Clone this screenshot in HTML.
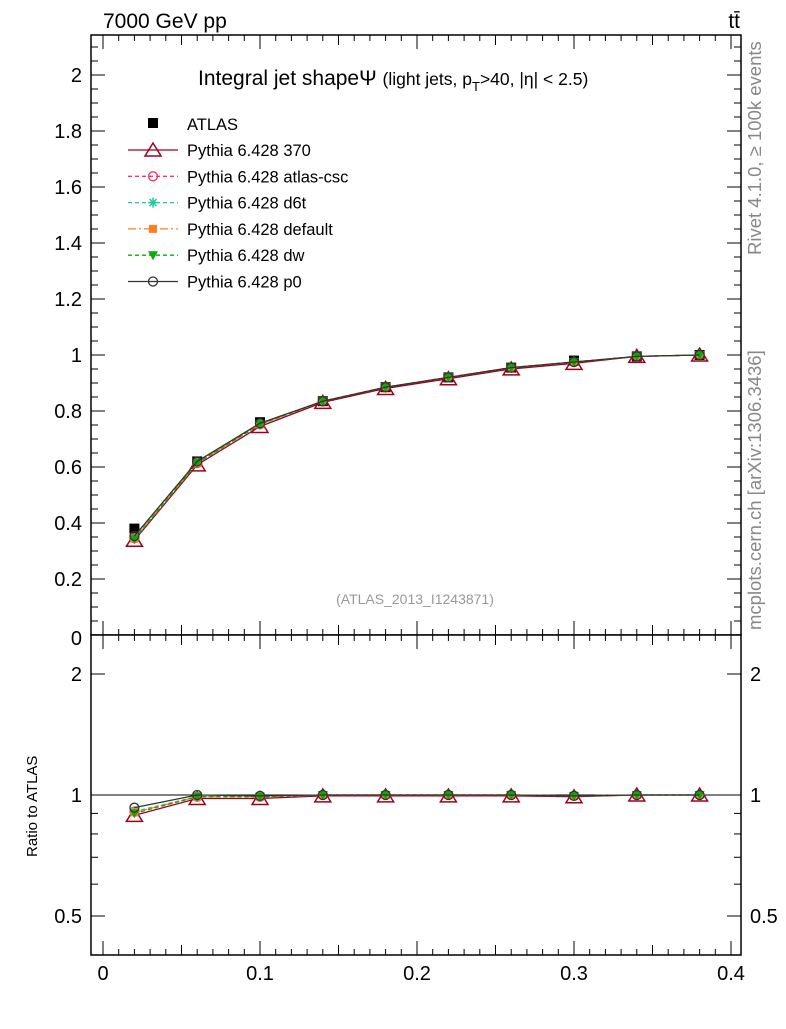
<!DOCTYPE html>
<html><head><meta charset="utf-8"><style>
body{margin:0;background:#fff;width:786px;height:1024px;overflow:hidden}
svg text{font-family:"Liberation Sans",sans-serif}
</style></head><body>
<svg id="c" width="786" height="1024" xmlns="http://www.w3.org/2000/svg"></svg>
<script>
const xVals=[0.02,0.06,0.10,0.14,0.18,0.22,0.26,0.30,0.34,0.38];
const atlas=[0.38,0.62,0.76,0.835,0.885,0.92,0.955,0.98,0.995,1.0];
const r370=[0.89,0.98,0.98,0.995,0.995,0.995,0.995,0.99,1.0,1.0];
const rCsc=[0.91,0.99,0.99,1.0,1.0,1.0,1.0,0.995,1.0,1.0];
const rD6t=[0.91,0.99,0.99,1.0,1.0,1.0,1.0,0.995,1.0,1.0];
const rDef=[0.905,0.99,0.99,1.0,1.0,1.0,1.0,0.995,1.0,1.0];
const rDw=[0.90,0.99,0.99,1.0,1.0,1.0,1.0,0.995,1.0,1.0];
const rP0=[0.93,1.0,0.995,1.0,1.0,1.0,1.0,0.995,1.0,1.0];
const xTicks=[0,0.1,0.2,0.3,0.4];
const yTicks=[0,0.2,0.4,0.6,0.8,1,1.2,1.4,1.6,1.8,2];
const rTicks=[0.5,1,2];

const S=document.getElementById('c');const NS='http://www.w3.org/2000/svg';
function el(t,a,p){const e=document.createElementNS(NS,t);for(const k in a)e.setAttribute(k,a[k]);(p||S).appendChild(e);return e;}
const L=91,R=741,T=35,M=635,B=955;
const X=v=>103+v*1570;
const Y=v=>635-280*v;
const YR=r=>795-121*Math.log2(r);
let f1=el('rect',{x:L,y:T,width:R-L,height:M-T,fill:'none',stroke:'#000','stroke-width':1.5});

for(let i=0;i<=42;i++){const v=i*0.01;const x=X(v);if(x>R)break;const maj=i%10==0;const len=maj?14:(i%5==0?10:6);
 el('line',{x1:x,y1:M,x2:x,y2:M-len,stroke:'#000'});el('line',{x1:x,y1:T,x2:x,y2:T+len,stroke:'#000'});
 el('line',{x1:x,y1:B,x2:x,y2:B-len,stroke:'#000'});el('line',{x1:x,y1:M,x2:x,y2:M+len,stroke:'#000'});}
xTicks.forEach(v=>{const t=el('text',{x:X(v),y:980,'font-size':20,'text-anchor':'middle'});t.textContent=String(v);
 });
for(let i=0;i<=42;i++){const v=i*0.05;const y=Y(v);if(y<T)break;const maj=i%4==0;const len=maj?14:7;
 el('line',{x1:L,y1:y,x2:L+len,y2:y,stroke:'#000'});el('line',{x1:R,y1:y,x2:R-len,y2:y,stroke:'#000'});}
yTicks.forEach(v=>{const t=el('text',{x:82,y:Y(v)+7+(v===0?3:0),'font-size':20,'text-anchor':'end'});t.textContent=String(v);
 });
// ratio panel background covers clipped 0 label
let f2=el('rect',{x:L,y:M,width:R-L,height:B-M,fill:'#fff',stroke:'#000','stroke-width':1.5});

for(let i=0;i<=42;i++){const x=X(i*0.01);if(x>R)break;const len=i%10==0?14:(i%5==0?10:6);
 el('line',{x1:x,y1:B,x2:x,y2:B-len,stroke:'#000'});el('line',{x1:x,y1:M,x2:x,y2:M+len,stroke:'#000'});}
[0.4,0.5,0.6,0.7,0.8,0.9,1,2].forEach(r=>{const y=YR(r);const maj=rTicks.includes(r);const len=maj?14:7;
 el('line',{x1:L,y1:y,x2:L+len,y2:y,stroke:'#000'});el('line',{x1:R,y1:y,x2:R-len,y2:y,stroke:'#000'});});
rTicks.forEach(r=>{[[82,'end'],[750,'start']].forEach(([x,a])=>{const t=el('text',{x:x,y:YR(r)+7,'font-size':20,'text-anchor':a});t.textContent=String(r);
 });});
el('line',{x1:L,y1:YR(1),x2:R,y2:YR(1),stroke:'#000'});
const series=[
 {n:'pythia-370',lab:'Pythia 6.428 370',c:'#a0001e',d:'',m:'tri',r:r370},
 {n:'pythia-atlas-csc',lab:'Pythia 6.428 atlas-csc',c:'#ff3366',d:'4,3',m:'circ',r:rCsc},
 {n:'pythia-d6t',lab:'Pythia 6.428 d6t',c:'#1ec8a0',d:'4,3',m:'star',r:rD6t},
 {n:'pythia-default',lab:'Pythia 6.428 default',c:'#ff7f1e',d:'8,3,2,3',m:'sq',r:rDef},
 {n:'pythia-dw',lab:'Pythia 6.428 dw',c:'#0aaa0a',d:'4,3',m:'dtri',r:rDw},
 {n:'pythia-p0',lab:'Pythia 6.428 p0',c:'#333',d:'',m:'circ',r:rP0}];
function marker(t,x,y,c,g){
 if(t=='tri')return el('path',{d:`M${x},${y-7}L${x+8},${y+6}L${x-8},${y+6}Z`,fill:'none',stroke:c,'stroke-width':1.5},g);
 if(t=='circ')return el('circle',{cx:x,cy:y,r:4.5,fill:'none',stroke:c,'stroke-width':1.3},g);
 if(t=='sq')return el('rect',{x:x-4,y:y-4,width:8,height:8,fill:c},g);
 if(t=='dtri')return el('path',{d:`M${x-5},${y-4}L${x+5},${y-4}L${x},${y+5}Z`,fill:c},g);
 if(t=='star'){const gg=el('g',{},g);[0,45,90,135].forEach(a=>{const dx=5*Math.cos(a*Math.PI/180),dy=5*Math.sin(a*Math.PI/180);el('line',{x1:x-dx,y1:y-dy,x2:x+dx,y2:y+dy,stroke:c,'stroke-width':1.5},gg);});return gg;}
}
const ga=el('g',{});
xVals.forEach((x,i)=>el('rect',{x:X(x)-5,y:Y(atlas[i])-5,width:10,height:10,fill:'#000'},ga));
series.forEach(s=>{
 const g=el('g',{});
 const pm=xVals.map((x,i)=>[X(x),Y(atlas[i]*s.r[i])]);
 const pr=xVals.map((x,i)=>[X(x),YR(s.r[i])]);
 [pm,pr].forEach(p=>{el('polyline',{points:p.map(q=>q.join(',')).join(' '),fill:'none',stroke:s.c,'stroke-width':1.3,'stroke-dasharray':s.d},g);
 p.forEach(q=>marker(s.m,q[0],q[1],s.c,g));});
});
const lg=el('g',{});
el('rect',{x:148,y:118,width:10,height:10,fill:'#000'},lg);
let t=el('text',{x:187,y:130,'font-size':16.5},lg);t.textContent='ATLAS';
series.forEach((s,i)=>{const y=150+i*26.3;const g=el('g',{},lg);
 el('line',{x1:128,y1:y,x2:178,y2:y,stroke:s.c,'stroke-width':1.3,'stroke-dasharray':s.d},g);marker(s.m,153,y,s.c,g);
 const tt=el('text',{x:187,y:y+6,'font-size':16.5},g);tt.textContent=s.lab;});
function txt(a,s,n){const e=el('text',a);e.innerHTML=s;return e;}
txt({x:103,y:28,'font-size':21},'7000 GeV pp','energy-label');
txt({x:740,y:28,'font-size':21,'text-anchor':'end'},'t<tspan>t̄</tspan>','process-label');
txt({x:198,y:85,'font-size':21},'Integral jet shape&#936; <tspan font-size="17.5">(light jets, p</tspan><tspan font-size="13" dy="6">T</tspan><tspan font-size="17.5" dy="-6">&gt;40, |&#951;| &lt; 2.5)</tspan>','plot-title');
txt({x:415,y:604,'font-size':14,fill:'#999','text-anchor':'middle'},'(ATLAS_2013_I1243871)','analysis-id');
txt({x:0,y:0,'font-size':18.5,fill:'#888',transform:'translate(761,255) rotate(-90)'},'Rivet 4.1.0, &#8805; 100k events','rivet-label');
txt({x:0,y:0,'font-size':18.5,fill:'#888',transform:'translate(761,630) rotate(-90)'},'mcplots.cern.ch [arXiv:1306.3436]','mcplots-label');
txt({x:0,y:0,'font-size':15,transform:'translate(37,857) rotate(-90)'},'Ratio to ATLAS','ratio-y-title');
</script></body></html>
